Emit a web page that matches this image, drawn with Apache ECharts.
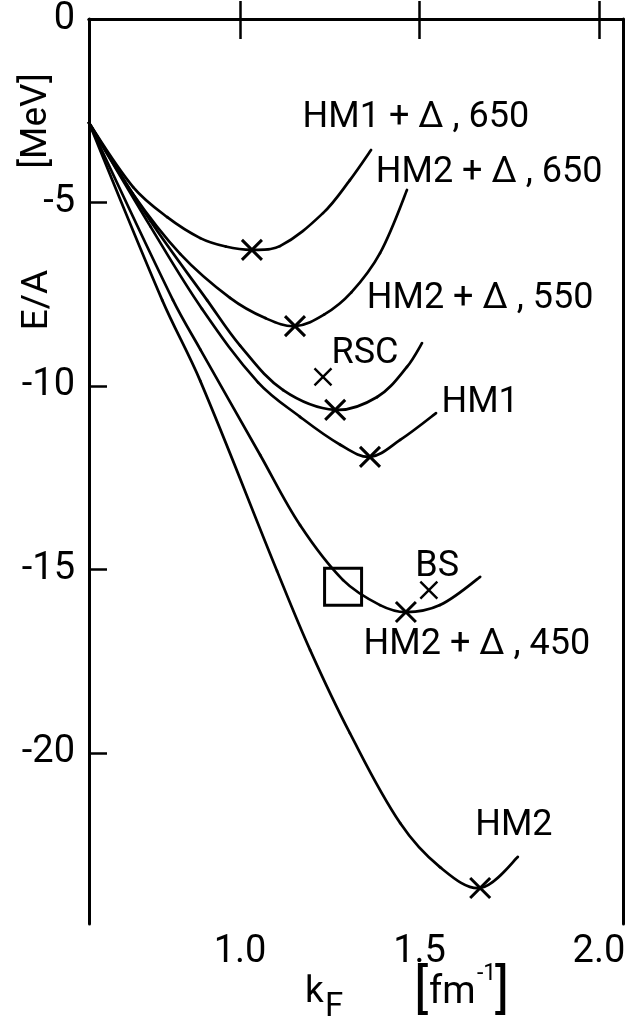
<!DOCTYPE html>
<html>
<head>
<meta charset="utf-8">
<script src="https://cdn.jsdelivr.net/npm/echarts@6/dist/echarts.min.js"></script>
<style>
html,body{margin:0;padding:0;background:#fff;}
#chart{width:635px;height:1025px;}
</style>
</head>
<body>
<div id="chart"></div>
<script>
// ---- data (k_F in fm^-1, E/A in MeV) ----
const hm1d650 = [[0.579,-2.83],[0.702,-4.58],[0.797,-5.40],[0.889,-5.97],[0.96,-6.20],[1.033,-6.29],[1.111,-6.19],[1.231,-5.29],[1.306,-4.39],[1.365,-3.57]];
const hm2d650 = [[0.579,-2.83],[0.70,-4.75],[0.833,-6.40],[0.972,-7.60],[1.07,-8.15],[1.153,-8.37],[1.235,-8.05],[1.31,-7.45],[1.39,-6.38],[1.465,-4.66]];
const hm2d550 = [[0.579,-2.83],[0.75,-5.50],[0.908,-7.66],[1.00,-8.90],[1.12,-10.11],[1.265,-10.65],[1.382,-10.30],[1.465,-9.48],[1.507,-8.83]];
const hm1     = [[0.579,-2.83],[0.75,-5.65],[0.894,-7.90],[1.05,-9.90],[1.167,-10.84],[1.279,-11.60],[1.362,-11.93],[1.446,-11.47],[1.546,-10.74]];
const hm2d450 = [[0.579,-2.83],[0.813,-7.66],[0.889,-9.00],[1.056,-11.88],[1.167,-13.79],[1.287,-15.29],[1.39,-15.97],[1.462,-16.16],[1.557,-15.97],[1.669,-15.20]];
const hm2     = [[0.579,-2.83],[0.783,-7.66],[0.889,-9.86],[1.103,-15.04],[1.195,-17.19],[1.306,-19.46],[1.446,-21.91],[1.557,-23.11],[1.669,-23.68],[1.774,-22.83]];
const minima  = [[1.033,-6.29],[1.153,-8.37],[1.265,-10.65],[1.362,-11.93],[1.462,-16.16],[1.669,-23.68]];
const singles = [[1.231,-9.75],[1.526,-15.56]];   // RSC, BS
const boxPoint = [[1.287,-15.47]];
const curveLabels = [
  {name:'HM1 + Δ , 650', value:[1.490,-2.70]},
  {name:'HM2 + Δ , 650', value:[1.694,-4.20]},
  {name:'HM2 + Δ , 550', value:[1.669,-7.62]},
  {name:'RSC', value:[1.348,-9.12]},
  {name:'HM1', value:[1.669,-10.45]},
  {name:'BS', value:[1.549,-14.92]},
  {name:'HM2 + Δ , 450', value:[1.660,-17.05]},
  {name:'HM2', value:[1.763,-21.98]}
];
const xTicks = [1.0, 1.5, 2.0];
const yLabels = [0, -5, -10, -15, -20];
const yTicks = [-5, -10, -15, -20];
const xRange = [0.579, 2.067];
const yRange = [-24.66, 0];

const FONT = 'Roboto, "DejaVu Sans", sans-serif';
const chart = echarts.init(document.getElementById('chart'), null, {renderer:'canvas'});
const TENSION = 0.36;

// smooth curve through the data points: each item draws the cubic segment to the next point,
// positioned through the axes with api.coord
function curve(pts) {
  return {
    type:'custom', data:pts, encode:{x:0, y:1}, silent:true, z:2, clip:false,
    renderItem:function(params, api){
      const i = params.dataIndex;
      if (i >= pts.length - 1) return null;
      const P = j => api.coord(pts[Math.max(0, Math.min(pts.length - 1, j))]);
      const p0 = P(i-1), p1 = P(i), p2 = P(i+1), p3 = P(i+2);
      const d = (a,b) => Math.hypot(a[0]-b[0], a[1]-b[1]);
      const d01 = d(p0,p1), d12 = d(p1,p2), d23 = d(p2,p3);
      const r1 = (d01 + d12) ? d12/(d01 + d12) : 0;
      const r2 = (d12 + d23) ? d12/(d12 + d23) : 0;
      const s1 = i === 0 ? 0.5 : r1;
      const s2 = i === pts.length - 2 ? 0.5 : r2;
      const c1 = [p1[0] + (p2[0]-p0[0]) * TENSION * s1 * (i === 0 ? 0.6 : 1), p1[1] + (p2[1]-p0[1]) * TENSION * s1 * (i === 0 ? 0.6 : 1)];
      const c2 = [p2[0] - (p3[0]-p1[0]) * TENSION * s2 * (i === pts.length - 2 ? 0.6 : 1), p2[1] - (p3[1]-p1[1]) * TENSION * s2 * (i === pts.length - 2 ? 0.6 : 1)];
      return {type:'bezierCurve',
        shape:{x1:p1[0], y1:p1[1], x2:p2[0], y2:p2[1], cpx1:c1[0], cpy1:c1[1], cpx2:c2[0], cpy2:c2[1]},
        style:{stroke:'#000', lineWidth:2.7, fill:null, lineCap:'round'}};
    }
  };
}
const cross = 'path://M0,0L10,10M10,0L0,10';
const axisCommon = {
  type:'value', min:xRange[0], max:xRange[1],
  axisLine:{show:true, lineStyle:{color:'#000', width:3}},
  splitLine:{show:false}
};
chart.setOption({
  animation:false,
  backgroundColor:'#fff',
  grid:{left:89, top:19, right:12, bottom:101, containLabel:false},
  xAxis:[
    Object.assign({}, axisCommon, {position:'bottom',
      axisTick:{show:true, inside:true, length:18, lineStyle:{color:'#000', width:2.5}, customValues:xTicks},
      axisLabel:{show:true, customValues:xTicks, formatter:v=>Number(v).toFixed(1), color:'#000', fontSize:38, fontFamily:FONT, margin:9}}),
    Object.assign({}, axisCommon, {position:'top',
      axisTick:{show:true, inside:true, length:20, lineStyle:{color:'#000', width:2.5}, customValues:xTicks},
      axisLabel:{show:false}})
  ],
  yAxis:[
    {type:'value', min:yRange[0], max:yRange[1], position:'left',
      axisLine:{show:true, lineStyle:{color:'#000', width:3}}, splitLine:{show:false},
      axisTick:{show:true, inside:true, length:18, lineStyle:{color:'#000', width:2.5}, customValues:yTicks},
      axisLabel:{show:true, customValues:yLabels, formatter:v=> v===0 ? '0' : '-' + Math.abs(v), color:'#000', fontSize:38, fontFamily:FONT, margin:14}},
    {type:'value', min:yRange[0], max:yRange[1], position:'right',
      axisLine:{show:true, lineStyle:{color:'#000', width:3}}, splitLine:{show:false},
      axisTick:{show:false}, axisLabel:{show:false}}
  ],
  series:[
    curve(hm1d650), curve(hm2d650), curve(hm2d550), curve(hm1), curve(hm2d450), curve(hm2),
    {type:'scatter', data:minima, symbol:cross, symbolSize:20, itemStyle:{color:'rgba(0,0,0,0)', borderColor:'#000', borderWidth:3, opacity:1}, z:3, silent:true},
    {type:'scatter', data:singles, symbol:cross, symbolSize:17, itemStyle:{color:'rgba(0,0,0,0)', borderColor:'#000', borderWidth:2.4, opacity:1}, z:3, silent:true},
    {type:'scatter', data:boxPoint, symbol:'rect', symbolSize:37, itemStyle:{color:'rgba(0,0,0,0)', borderColor:'#000', borderWidth:3, opacity:1}, z:3, silent:true},
    {type:'scatter', data:curveLabels, symbolSize:0, z:4, silent:true, itemStyle:{opacity:1},
      label:{show:true, position:'inside', formatter:p=>p.name, color:'#000', opacity:1, fontSize:36, fontFamily:FONT, align:'center', verticalAlign:'middle'}}
  ],
  graphic:[
    {type:'text', x:37, y:121, rotation:Math.PI/2, style:{text:'[MeV]', fontSize:37, fontFamily:FONT, fill:'#000', align:'center', verticalAlign:'middle'}},
    {type:'text', x:38, y:300, rotation:Math.PI/2, style:{text:'E/A', fontSize:37, fontFamily:FONT, fill:'#000', align:'center', verticalAlign:'middle'}},
    {type:'text', x:305, y:993, style:{text:'k', fontSize:37, fontFamily:FONT, fill:'#000', align:'left', verticalAlign:'middle'}},
    {type:'text', x:325, y:1008, style:{text:'F', fontSize:33, fontFamily:FONT, fill:'#000', align:'left', verticalAlign:'middle'}},
    {type:'text', x:414, y:993, style:{text:'[', fontSize:54, fontFamily:FONT, fill:'#000', align:'left', verticalAlign:'middle'}},
    {type:'text', x:429, y:993, style:{text:'fm', fontSize:38, fontFamily:FONT, fill:'#000', align:'left', verticalAlign:'middle'}},
    {type:'text', x:477, y:974, style:{text:'-1', fontSize:23, fontFamily:FONT, fill:'#000', align:'left', verticalAlign:'middle'}},
    {type:'text', x:495, y:993, style:{text:']', fontSize:54, fontFamily:FONT, fill:'#000', align:'left', verticalAlign:'middle'}}
  ]
});
</script>
</body>
</html>
